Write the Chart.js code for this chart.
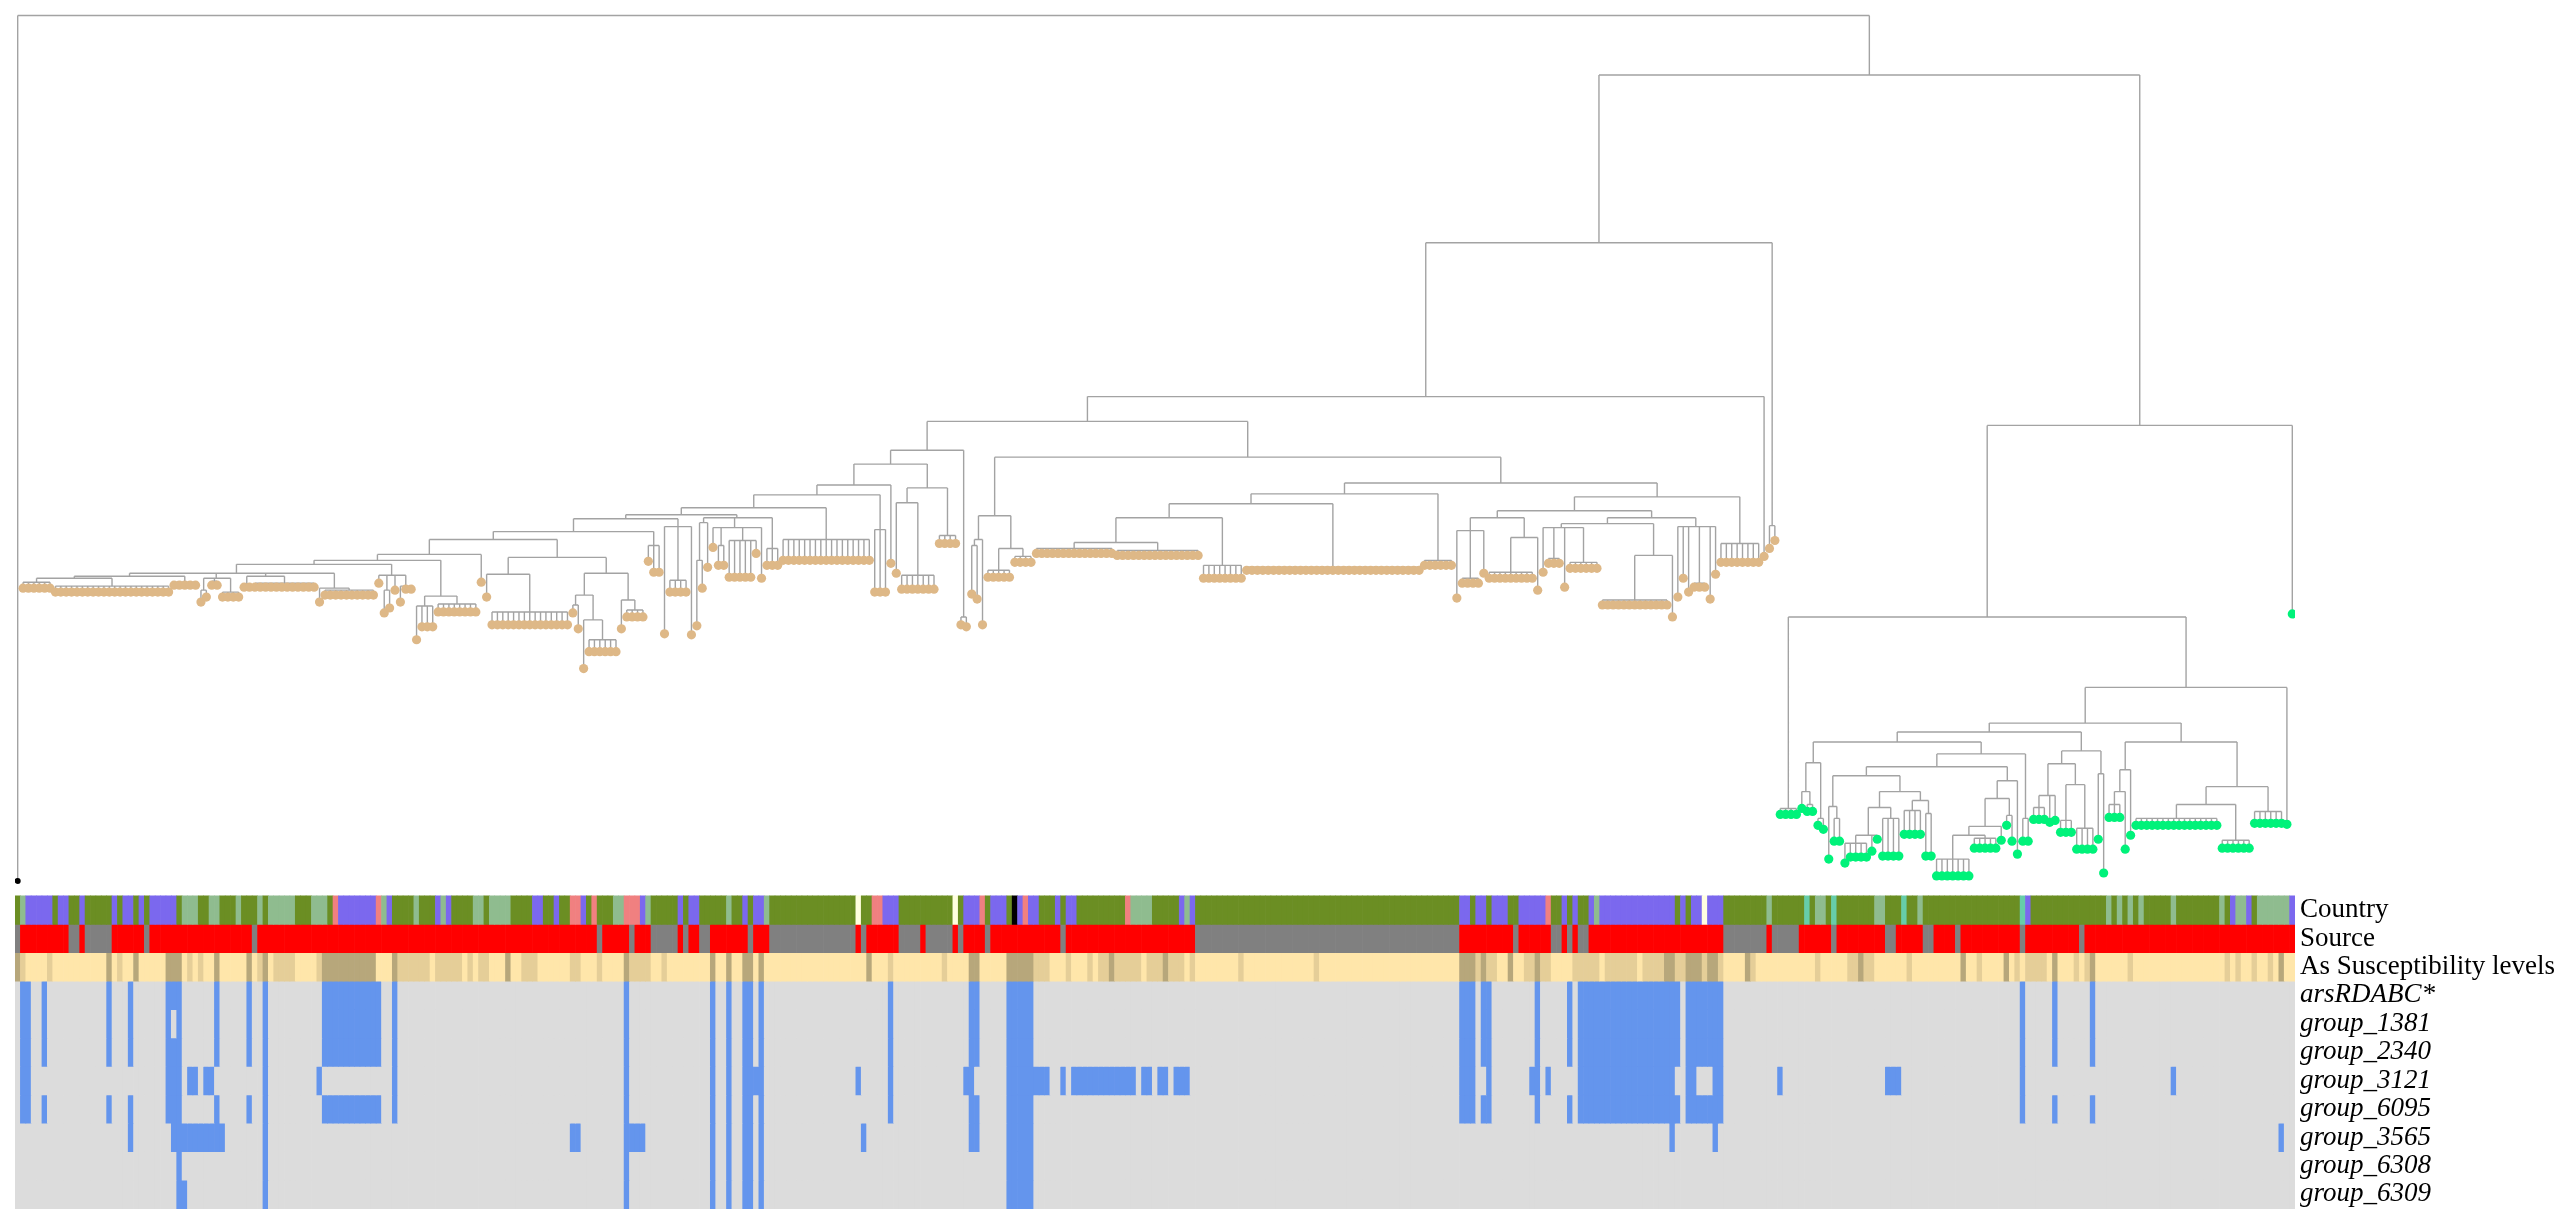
<!DOCTYPE html>
<html>
<head>
<meta charset="utf-8">
<script src="https://cdn.jsdelivr.net/npm/chart.js@4.4.1/dist/chart.umd.min.js"></script>
<style>
  html, body { margin: 0; padding: 0; background: #fff; }
  canvas { display: block; }
</style>
</head>
<body>
<canvas id="tree-heatmap" width="2560" height="1216"></canvas>
<script>
// Number of tips (= heatmap columns), left to right
const tipCount = 423;

// Heatmap row labels, top to bottom
const rowLabels = ['Country', 'Source', 'As Susceptibility levels', 'arsRDABC*', 'group_1381',
  'group_2340', 'group_3121', 'group_6095', 'group_3565', 'group_6308', 'group_6309'];

// Tree: [nodeDepth, ...children]; a number is a tip depth, 'n@d' is n tips at depth d
const cladeL1 = [573,
  [576, [578, [582, '6@588'], [586, '22@592']], [582, '5@585']],
  [578, [590, 602, 597], [581, '2@585'], [592, '4@597']],
  [576, [584, '2@587'], [583, '12@587']],
  [588, 602, [590, '10@595']]];
const cladeL2 = [575, 583, [590, 613, 608], 590, [586, 602, '2@589']];
const cladeL3 = [596, [606, 640, '3@627'], [604, '8@612']];
const cladeL4 = [574, 597, [612, '15@625']];
const cladeL5 = [573, [595, [605, 613, 629], [620, 669, [640, '6@652']]], [600, 629, [610, '4@617']]];
const cladeL6 = [545, 561, '2@572'];
const cladeL7 = [526, 634, [580, '4@592'], 635];
const cladeL8 = [517, [522, [560, 626, 588], 567], [527, 547, [545, '2@565'], [540, '5@577', 553], 578], [548, '3@565']];
const cladeL9 = [539, '17@560'];
const cladeL10 = [529, '3@592'];
const cladeL11 = [502, 573, [575, '7@589']];
const cladeL12 = [535, '4@543'];
const cladeL13 = [617, 625, 627];

const cladeM1 = [539, [545, 594, 599], 625];
const cladeM2 = [548, [570, '5@577'], [556, '4@562']];
const cladeM3 = [542, [548, '15@553'], [550, '16@555']];
const cladeM4 = [565, '8@578'];
const cladeM5 = [567, '33@570'];
const cladeM6 = [560, '6@565'];
const cladeM7 = [530, 598, [578, '4@583'], 573];
const cladeM8 = [537, [572, '9@578'], 590];
const cladeM9 = [527, 572, [558, '3@563'], 587, [562, '6@568']];
const cladeM10 = [555, [600, '13@605'], 617];
const cladeM11 = [526, 597, 578, 592, [583, '3@587'], 599, 574];
const cladeM12 = [543, '8@562'];

const cladeG1 = [810, '4@816'];
const cladeG2 = [764, [793, 810, [806, '2@813']], [820, 827, 831]];
const cladeG3 = [777, [808, 861, [820, '2@843']],
  [793, [809, [837, [845, 865, '4@859'], 853, 841], [820, '4@858']], [802, [812, '4@836'], [815, '2@858']]]];
const cladeG4 = [782, [800, [828, [837, [861, '7@878'], [840, '5@850']], 842], [817, 827, 843]], 856];
const cladeG5 = [820, '2@843'];
const cladeG6 = [752, [765, [797, [809, '3@821'], 824, 822], [786, [822, '3@834'], [830, '4@851']]], [775, 841, 875]];
const cladeG7 = [771, [793, [806, '3@819'], 851], 837];
const cladeG8 = [788, [806, [820, '16@827'], [842, '6@850']], [813, '6@825']];

const tanLower = [449, [463, [484, [494, [507, [514, [518, [531, [539,
  [554, [560, [564, cladeL1, cladeL2], cladeL3], 582], [557, cladeL4, cladeL5]],
  cladeL6], cladeL7], cladeL8], cladeL9], cladeL10], 563], [487, cladeL11, cladeL12]], cladeL13];
const tanUpper = [456, [515, cladeM1, cladeM2],
  [482, [493, [503, [517, cladeM3, cladeM4], cladeM5], cladeM6],
    [496, [510, [517, cladeM7, cladeM8], [517, [523, cladeM9, cladeM10], cladeM11]], cladeM12]]];
const tanClade = [240, [395, [420, tanLower, tanUpper], 556], [525, 548, 540]];
const greenClade = [424, [617, cladeG1,
  [688, [724, [733, [743, cladeG2, [755, [768, cladeG3, cladeG4], cladeG5]], cladeG6], [743, cladeG7, cladeG8]], 826]], 614];
const treeRoot = [11, 883, [71, tanClade, greenClade]];

// Annotation rows as [startColumn, code] runs
const countryRuns = [[0,'G'],[1,'L'],[2,'P'],[7,'G'],[8,'P'],[10,'G'],[12,'P'],[13,'G'],[18,'P'],[19,'G'],[20,'P'],
  [22,'G'],[23,'P'],[24,'G'],[25,'P'],[30,'G'],[31,'L'],[34,'G'],[36,'L'],[38,'G'],[41,'L'],[42,'G'],[45,'L'],[46,'G'],
  [47,'L'],[52,'G'],[55,'L'],[58,'G'],[59,'S'],[60,'P'],[67,'S'],[68,'L'],[69,'P'],[70,'G'],[74,'L'],[75,'G'],[78,'P'],
  [79,'L'],[80,'P'],[81,'G'],[85,'L'],[87,'G'],[88,'L'],[92,'G'],[96,'P'],[98,'G'],[100,'P'],[101,'G'],[103,'S'],
  [105,'P'],[106,'G'],[107,'S'],[108,'G'],[111,'L'],[113,'S'],[116,'P'],[117,'L'],[118,'G'],[123,'P'],[124,'G'],
  [125,'P'],[127,'G'],[132,'L'],[133,'G'],[135,'P'],[136,'G'],[137,'P'],[139,'L'],[140,'G'],[156,'W'],[157,'G'],
  [159,'S'],[161,'P'],[164,'G'],[174,'W'],[175,'G'],[176,'P'],[179,'S'],[180,'G'],[181,'P'],[184,'G'],[185,'K'],
  [186,'P'],[187,'S'],[188,'P'],[190,'G'],[193,'P'],[194,'G'],[195,'P'],[197,'G'],[206,'S'],[207,'L'],[211,'G'],
  [216,'P'],[217,'L'],[218,'P'],[219,'G'],[268,'P'],[270,'G'],[271,'P'],[273,'G'],[274,'P'],[277,'G'],[279,'P'],
  [284,'S'],[285,'G'],[287,'P'],[288,'G'],[289,'P'],[290,'G'],[292,'P'],[293,'L'],[294,'P'],[308,'G'],[309,'P'],
  [310,'G'],[311,'P'],[313,'W'],[314,'P'],[317,'G'],[325,'L'],[326,'G'],[332,'T'],[333,'G'],[334,'L'],[336,'G'],
  [337,'T'],[338,'G'],[345,'L'],[347,'G'],[350,'T'],[351,'G'],[353,'L'],[354,'G'],[372,'T'],[373,'P'],[374,'G'],
  [388,'L'],[389,'G'],[390,'L'],[391,'G'],[392,'L'],[393,'G'],[394,'L'],[395,'G'],[400,'L'],[401,'G'],[409,'L'],
  [410,'G'],[411,'P'],[412,'L'],[414,'P'],[415,'G'],[416,'L'],[422,'P']];
const sourceRuns = [[0,'Y'],[1,'R'],[10,'Y'],[12,'R'],[13,'Y'],[18,'R'],[24,'Y'],[25,'R'],[44,'Y'],[45,'R'],[108,'Y'],
  [109,'R'],[114,'Y'],[115,'R'],[118,'Y'],[123,'R'],[124,'Y'],[125,'R'],[127,'Y'],[129,'R'],[136,'Y'],[137,'R'],
  [140,'Y'],[156,'R'],[157,'Y'],[158,'R'],[164,'Y'],[168,'R'],[169,'Y'],[174,'R'],[175,'Y'],[176,'R'],[180,'Y'],
  [181,'R'],[194,'Y'],[195,'R'],[219,'Y'],[268,'R'],[278,'Y'],[279,'R'],[285,'Y'],[287,'R'],[288,'Y'],[289,'R'],
  [290,'Y'],[292,'R'],[317,'Y'],[325,'R'],[326,'Y'],[331,'R'],[337,'Y'],[338,'R'],[347,'Y'],[349,'R'],[354,'Y'],
  [356,'R'],[360,'Y'],[361,'R'],[372,'Y'],[373,'R'],[383,'Y'],[384,'R']];
const arsenicRuns = [[0,'d'],[1,'m'],[2,'l'],[6,'m'],[7,'l'],[17,'d'],[18,'l'],[19,'m'],[20,'l'],[22,'d'],[23,'l'],
  [28,'d'],[31,'l'],[32,'m'],[33,'l'],[34,'m'],[35,'l'],[37,'d'],[38,'l'],[43,'d'],[44,'l'],[45,'m'],[46,'d'],[47,'l'],
  [48,'m'],[52,'l'],[56,'m'],[57,'d'],[67,'l'],[70,'d'],[71,'m'],[77,'l'],[78,'m'],[83,'l'],[84,'m'],[85,'l'],[86,'m'],
  [88,'l'],[91,'d'],[92,'l'],[94,'m'],[97,'l'],[103,'m'],[105,'l'],[108,'m'],[109,'l'],[113,'d'],[114,'m'],[118,'l'],
  [120,'m'],[121,'l'],[129,'d'],[130,'l'],[132,'d'],[133,'l'],[135,'d'],[137,'l'],[138,'d'],[139,'l'],[158,'d'],
  [159,'l'],[162,'m'],[163,'l'],[172,'m'],[173,'l'],[177,'d'],[179,'l'],[184,'d'],[189,'m'],[192,'l'],[195,'m'],
  [196,'l'],[199,'m'],[200,'l'],[201,'m'],[203,'d'],[204,'m'],[209,'l'],[210,'m'],[213,'d'],[214,'m'],[217,'l'],
  [218,'m'],[219,'l'],[227,'m'],[228,'l'],[241,'m'],[242,'l'],[268,'d'],[271,'m'],[272,'d'],[273,'m'],[275,'l'],
  [277,'d'],[278,'l'],[280,'m'],[282,'d'],[283,'m'],[285,'l'],[289,'m'],[294,'l'],[295,'m'],[301,'l'],[302,'m'],
  [306,'d'],[308,'m'],[310,'d'],[313,'m'],[314,'d'],[316,'m'],[317,'l'],[321,'d'],[322,'m'],[323,'l'],[334,'m'],
  [335,'l'],[340,'m'],[342,'d'],[343,'m'],[345,'l'],[351,'m'],[352,'l'],[361,'d'],[362,'l'],[364,'m'],[365,'l'],
  [369,'d'],[370,'l'],[371,'m'],[372,'l'],[373,'m'],[377,'l'],[378,'d'],[379,'l'],[382,'m'],[383,'l'],[384,'m'],
  [385,'d'],[386,'l'],[392,'m'],[393,'l'],[410,'m'],[411,'l'],[412,'m'],[413,'l'],[415,'m'],[416,'l'],[418,'m'],
  [419,'l'],[420,'d'],[421,'l']];

// Gene presence: [firstColumn, lastColumn] ranges where the gene is present
const arsRDABC = [[1,2],[5,5],[17,17],[21,21],[28,30],[37,37],[43,43],[46,46],[57,67],[70,70],[113,113],[129,129],
  [132,132],[135,136],[138,138],[162,162],[177,178],[184,188],[268,270],[272,273],[282,282],[288,288],[290,308],
  [310,316],[372,372],[378,378],[385,385]];
const group1381 = [[1,2],[5,5],[17,17],[21,21],[28,28],[30,30],[37,37],[43,43],[46,46],[57,67],[70,70],[113,113],
  [129,129],[132,132],[135,136],[138,138],[162,162],[177,178],[184,188],[268,270],[272,273],[282,282],[288,288],
  [290,308],[310,316],[372,372],[378,378],[385,385]];
const group2340 = [[1,2],[5,5],[17,17],[21,21],[28,30],[37,37],[43,43],[46,46],[57,67],[70,70],[113,113],[129,129],
  [132,132],[135,136],[138,138],[162,162],[177,178],[184,188],[268,270],[272,273],[282,282],[288,288],[290,308],
  [310,316],[372,372],[378,378],[385,385]];
const group3121 = [[1,2],[28,30],[32,33],[35,36],[46,46],[56,56],[70,70],[113,113],[129,129],[132,132],[135,138],
  [156,156],[162,162],[176,177],[184,191],[194,194],[196,207],[209,210],[212,213],[215,217],[268,270],[273,273],
  [281,282],[284,284],[290,307],[310,311],[315,316],[327,327],[347,349],[372,372],[400,400]];
const group6095 = [[1,2],[5,5],[17,17],[21,21],[28,30],[37,37],[43,43],[46,46],[57,67],[70,70],[113,113],[129,129],
  [132,132],[135,136],[138,138],[162,162],[177,178],[184,188],[268,270],[272,273],[282,282],[288,288],[290,308],
  [310,316],[372,372],[378,378],[385,385]];
const group3565 = [[21,21],[29,38],[46,46],[103,104],[113,116],[129,129],[132,132],[135,136],[138,138],[157,157],
  [177,178],[184,188],[307,307],[315,315],[420,420]];
const group6308 = [[30,30],[46,46],[113,113],[129,129],[132,132],[135,136],[138,138],[184,188]];
const group6309 = [[30,31],[46,46],[113,113],[129,129],[132,132],[135,136],[138,138],[184,188]];

const countryColors = { G: '#6B8E23', P: '#7B68EE', L: '#8FBC8F', S: '#F08080', T: '#66CDAA', W: '#FFFFE0', K: '#000000' };
const sourceColors = { R: '#FF0000', Y: '#808080' };
const arsenicColors = { l: '#FFE6AA', m: '#E5CE98', d: '#B7A77B' };
const presentColor = '#6495ED';
const absentColor = '#DCDCDC';

// Walk the tree: tips get consecutive columns, inner nodes sit at the mean of their children
function buildTree() {
    const edges = [];
    const tips = { out: [], tan: [], green: [] };
    let next = 0;

    function visit(node, parentDepth, group) {
        if (node === tanClade) group = 'tan';
        if (node === greenClade) group = 'green';
        let x, depth;
        if (typeof node === 'number') {
            x = next++;
            depth = node;
            tips[group].push({ x: x, y: depth });
        } else {
            depth = node[0];
            const xs = [];
            node.slice(1).forEach(child => {
                if (typeof child === 'string') {
                    const [n, d] = child.split('@').map(Number);
                    for (let k = 0; k < n; k++) xs.push(visit(d, depth, group));
                } else {
                    xs.push(visit(child, depth, group));
                }
            });
            x = xs.reduce((s, v) => s + v, 0) / xs.length;
            edges.push({ x: xs[0], y: depth }, { x: xs[xs.length - 1], y: depth }, { x: xs[0], y: null });
        }
        if (parentDepth !== null) {
            edges.push({ x: x, y: parentDepth }, { x: x, y: depth }, { x: x, y: null });
        }
        return x;
    }

    visit(treeRoot, null, 'out');
    return { edges, tips };
}

function fromRuns(runs, palette) {
    const out = [];
    runs.forEach(([start, code], k) => {
        const end = k + 1 < runs.length ? runs[k + 1][0] : tipCount;
        for (let i = start; i < end; i++) out[i] = palette[code];
    });
    return out;
}

function fromRanges(ranges) {
    const out = new Array(tipCount).fill(absentColor);
    ranges.forEach(([a, b]) => {
        for (let i = a; i <= b; i++) out[i] = presentColor;
    });
    return out;
}

const rowColors = [
    fromRuns(countryRuns, countryColors),
    fromRuns(sourceRuns, sourceColors),
    fromRuns(arsenicRuns, arsenicColors),
    fromRanges(arsRDABC), fromRanges(group1381), fromRanges(group2340), fromRanges(group3121),
    fromRanges(group6095), fromRanges(group3565), fromRanges(group6308), fromRanges(group6309)
];

const tree = buildTree();

function tipDataset(points, color, radius) {
    return {
        type: 'scatter',
        data: points,
        xAxisID: 'x',
        yAxisID: 'yTree',
        pointRadius: radius,
        pointBackgroundColor: color,
        pointBorderWidth: 0
    };
}

const datasets = [
    tipDataset(tree.tips.out, '#000000', 3),
    tipDataset(tree.tips.tan, '#DEB887', 4.6),
    tipDataset(tree.tips.green, '#00F27A', 4.6),
    {
        type: 'line',
        data: tree.edges,
        xAxisID: 'x',
        yAxisID: 'yTree',
        borderColor: '#a3a3a3',
        borderWidth: 1.4,
        pointRadius: 0,
        spanGaps: false,
        tension: 0
    }
];

rowColors.forEach((colors, r) => {
    datasets.push({
        type: 'bar',
        data: colors.map((c, i) => ({ x: i, y: [r, r + 1] })),
        backgroundColor: colors,
        borderWidth: 0,
        xAxisID: 'x',
        yAxisID: 'yHeat',
        grouped: false,
        barPercentage: 1,
        categoryPercentage: 1
    });
});

new Chart(document.getElementById('tree-heatmap'), {
    type: 'bar',
    data: { datasets: datasets },
    options: {
        responsive: false,
        animation: false,
        events: [],
        devicePixelRatio: 1,
        layout: { padding: { left: 15, right: 0, top: 0, bottom: 0 } },
        plugins: { legend: { display: false }, tooltip: { enabled: false } },
        scales: {
            x: {
                type: 'linear',
                display: false,
                offset: false,
                min: -0.5,
                max: tipCount - 0.5
            },
            yTree: {
                axis: 'y',
                type: 'linear',
                display: false,
                reverse: true,
                min: 0,
                max: 1216
            },
            yHeat: {
                axis: 'y',
                type: 'linear',
                position: 'right',
                reverse: true,
                min: -31.36,
                max: 11.1,
                grid: { display: false, drawTicks: false },
                border: { display: false },
                afterBuildTicks: (scale) => {
                    scale.ticks = rowLabels.map((_, i) => ({ value: i + 0.5 }));
                },
                afterFit: (scale) => {
                    scale.width = 265;
                    scale.paddingTop = 0;
                    scale.paddingBottom = 0;
                },
                ticks: {
                    padding: 5,
                    color: '#000',
                    autoSkip: false,
                    callback: (value) => rowLabels[Math.floor(value)],
                    font: (ctx) => ({
                        family: '"Liberation Serif", "Times New Roman", serif',
                        size: 27,
                        style: ctx.index >= 3 ? 'italic' : 'normal'
                    })
                }
            }
        }
    }
});
</script>
</body>
</html>
